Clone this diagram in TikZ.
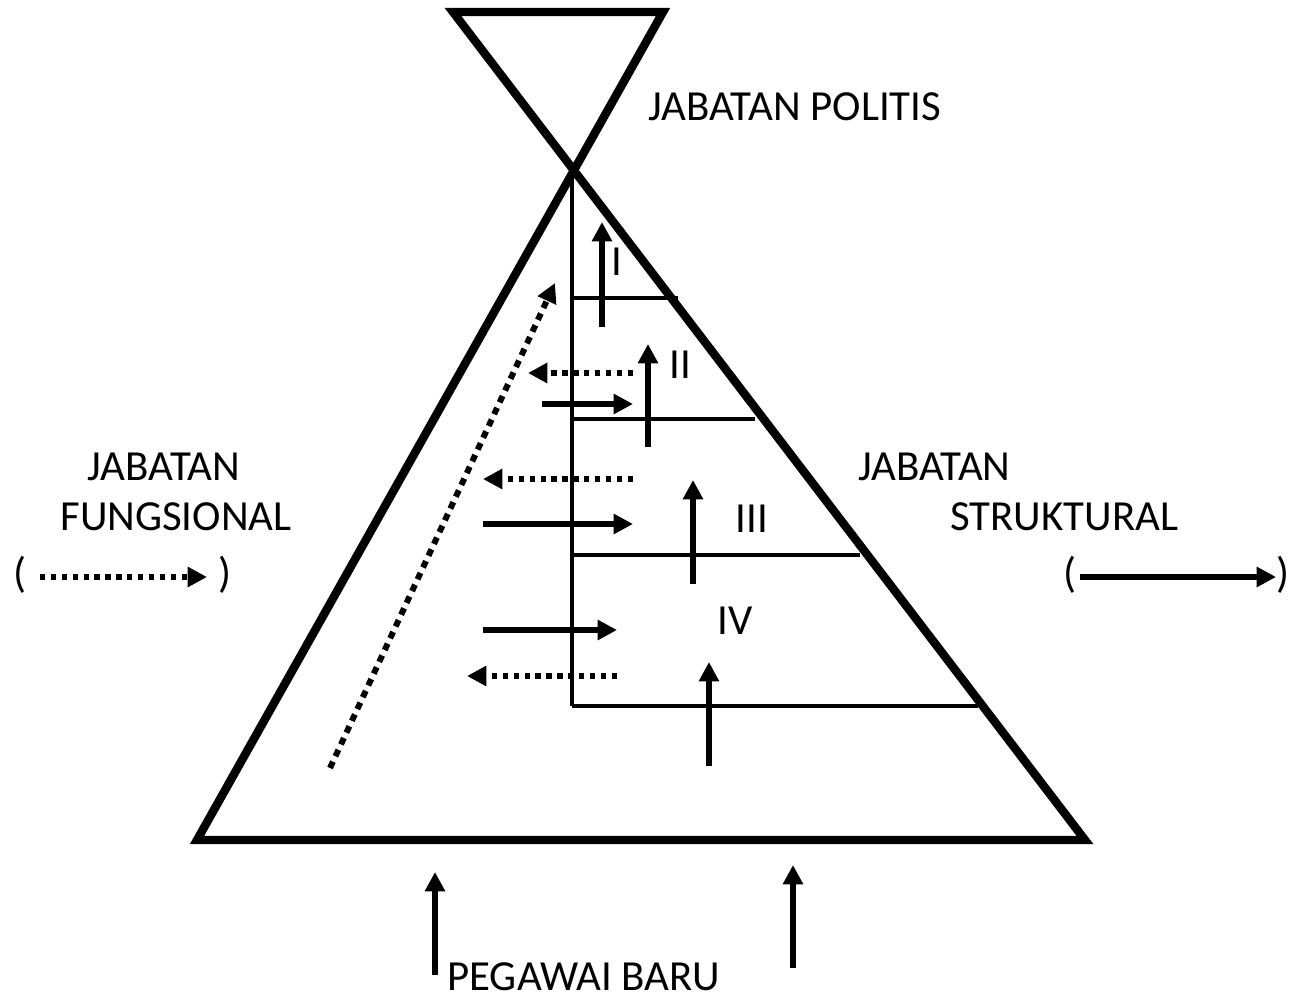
\documentclass[tikz,border=0pt]{standalone}
\usepackage{fontspec}
\setmainfont{Carlito}
\usepackage{tikz}
\usetikzlibrary{arrows.meta}
\tikzstyle{outline} = [draw, line width=4.8pt, line join=miter]
\tikzstyle{divider} = [draw, line width=2pt]
\tikzstyle{uparrow} = [draw, line width=3.4pt, -{Triangle[length=11pt, width=11pt]}]
\tikzstyle{dotarrow} = [draw, line width=3.4pt, dash pattern=on 3pt off 3.2pt, -{Triangle[length=11pt, width=11pt]}]
\tikzstyle{label} = [font=\fontsize{24.4}{29}\selectfont, inner sep=0pt, align=center]

\begin{document}
\begin{tikzpicture}[x=0.02cm, y=-0.02cm]
\useasboundingbox (0,0) rectangle (1289,997);

% hourglass outline
\coordinate (topl) at (453,12);
\coordinate (topr) at (663,12);
\coordinate (basel) at (197,840);
\coordinate (baser) at (1085,840);
\coordinate (apex) at (572,170);
\path[outline] (topl) -- (baser) -- (basel) -- (topr) -- cycle;

% levels
\coordinate (bottomv) at (572,706);
\path[divider] (apex) -- (bottomv);
\coordinate (l1) at (572,298);
\coordinate (r1) at (678,298);
\coordinate (l2) at (572,419);
\coordinate (r2) at (755,419);
\coordinate (l3) at (572,555);
\coordinate (r3) at (860,555);
\coordinate (r4) at (978,706);
\path[divider] (l1) -- (r1);
\path[divider] (l2) -- (r2);
\path[divider] (l3) -- (r3);
\path[divider] (bottomv) -- (r4);

\node[label] (politis) at (795,107) {JABATAN POLITIS};
\node[label] (lvI) at (617,262) {I};
\node[label] (lvII) at (680,365) {II};
\node[label] (lvIII) at (752,519) {III};
\node[label] (lvIV) at (735,621) {IV};
\node[label] (fungA) at (164,467) {JABATAN};
\node[label] (fungB) at (176,517) {FUNGSIONAL};
\node[label, anchor=west] (strukA) at (858,467) {JABATAN};
\node[label, anchor=west] (strukB) at (950,517) {STRUKTURAL};
\node[label, anchor=west] (baru) at (447,977) {PEGAWAI BARU};

% promotions inside the structure
\coordinate (upIa) at (602,327);
\coordinate (upIb) at (602,222);
\coordinate (upIIa) at (648,447);
\coordinate (upIIb) at (648,344);
\coordinate (upIIIa) at (693,584);
\coordinate (upIIIb) at (693,480);
\coordinate (upIVa) at (709,766);
\coordinate (upIVb) at (709,662);
\path[uparrow] (upIa) -- (upIb);
\path[uparrow] (upIIa) -- (upIIb);
\path[uparrow] (upIIIa) -- (upIIIb);
\path[uparrow] (upIVa) -- (upIVb);

% functional career
\coordinate (careerA) at (330,768);
\coordinate (careerB) at (555,283);
\path[dotarrow, dash pattern=on 4pt off 3.4pt] (careerA) -- (careerB);

% moves between both tracks
\coordinate (outA1) at (633,373);
\coordinate (outB1) at (528,373);
\coordinate (inA1) at (542,404);
\coordinate (inB1) at (633,404);
\coordinate (outA2) at (633,479);
\coordinate (outB2) at (483,479);
\coordinate (inA2) at (483,524);
\coordinate (inB2) at (633,524);
\coordinate (inA3) at (483,630);
\coordinate (inB3) at (617,630);
\coordinate (outA3) at (617,676);
\coordinate (outB3) at (467,676);
\path[dotarrow] (outA1) -- (outB1);
\path[uparrow] (inA1) -- (inB1);
\path[dotarrow] (outA2) -- (outB2);
\path[uparrow] (inA2) -- (inB2);
\path[uparrow] (inA3) -- (inB3);
\path[dotarrow] (outA3) -- (outB3);

% new employees
\coordinate (newA1) at (435,975);
\coordinate (newB1) at (435,872);
\coordinate (newA2) at (793,968);
\coordinate (newB2) at (793,865);
\path[uparrow] (newA1) -- (newB1);
\path[uparrow] (newA2) -- (newB2);

% legends
\node[label] (lparL) at (20,575) {(};
\node[label] (rparL) at (225,575) {)};
\coordinate (legLA) at (40,577);
\coordinate (legLB) at (207,577);
\path[dotarrow] (legLA) -- (legLB);
\node[label] (lparR) at (1070,575) {(};
\node[label] (rparR) at (1283,575) {)};
\coordinate (legRA) at (1080,577);
\coordinate (legRB) at (1276,577);
\path[uparrow] (legRA) -- (legRB);
\end{tikzpicture}
\end{document}
